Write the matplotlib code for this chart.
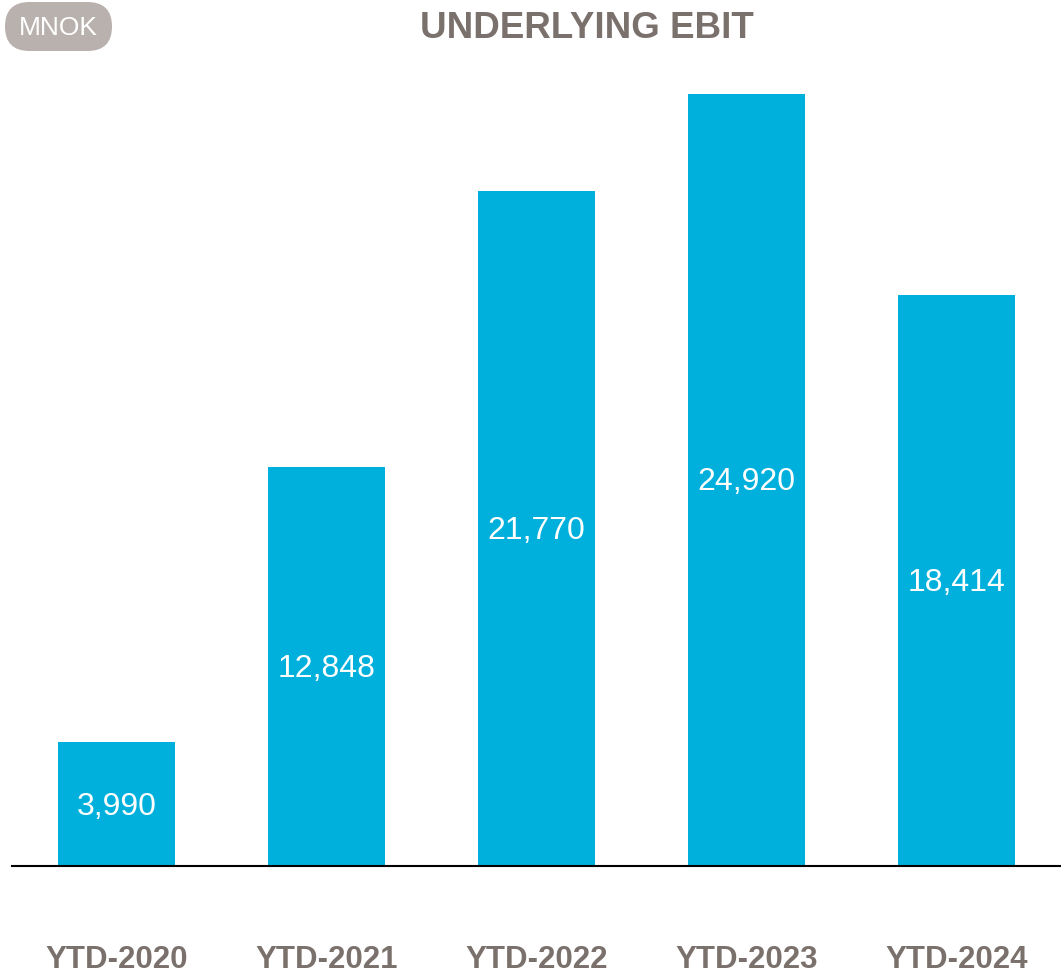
import matplotlib
matplotlib.use("Agg")
import matplotlib.pyplot as plt
from matplotlib.patches import FancyBboxPatch
from matplotlib.transforms import offset_copy

categories = ["YTD-2020", "YTD-2021", "YTD-2022", "YTD-2023", "YTD-2024"]
values = [3990, 12848, 21770, 24920, 18414]
value_labels = ["3,990", "12,848", "21,770", "24,920", "18,414"]

plt.rcParams['font.family'] = ['Liberation Sans', 'DejaVu Sans']

W, H = 1061, 976
fig = plt.figure(figsize=(W / 100, H / 100), dpi=100)
ax_left = 11.5 / W
ax_w = 1050 / W
ax_bottom = (H - 865.5) / H
ymax = 26000
ax_h = (ymax * 772 / 24920) / H
ax = fig.add_axes([ax_left, ax_bottom, ax_w, ax_h])

bar_color = "#00b0dc"
text_grey = "#7b716c"
x = list(range(len(categories)))
ax.bar(x, values, width=0.553, color=bar_color, zorder=2)
shift = offset_copy(ax.transData, fig=fig, x=0, y=-3, units="dots")
for xi, v, lab in zip(x, values, value_labels):
    ax.text(xi, v / 2, lab, ha="center", va="center", color="white",
            fontsize=23, transform=shift)

ax.set_xlim(-0.5, 4.5)
ax.set_ylim(0, ymax)
for s in ["top", "right", "left"]:
    ax.spines[s].set_visible(False)
ax.spines["bottom"].set_color("black")
ax.spines["bottom"].set_linewidth(1.5)
ax.set_yticks([])
ax.set_xticks(x)
ax.set_xticklabels(categories, fontsize=22.5, fontweight="bold", color=text_grey)
ax.tick_params(axis="x", length=0, pad=57)

fig.text(587 / W, 1 - 28 / H, "UNDERLYING EBIT", ha="center", va="center",
         fontsize=26.5, fontweight="bold", color=text_grey)

badge = FancyBboxPatch((5, H - 51), 107, 49,
                       boxstyle="round,pad=0,rounding_size=24.5",
                       transform=None, facecolor="#b9b1ae", edgecolor="none")
fig.patches.append(badge)
fig.text(58 / W, 1 - 28 / H, "MNOK", ha="center", va="center",
         fontsize=19, color="white")

fig.savefig("out.png", dpi=100)
